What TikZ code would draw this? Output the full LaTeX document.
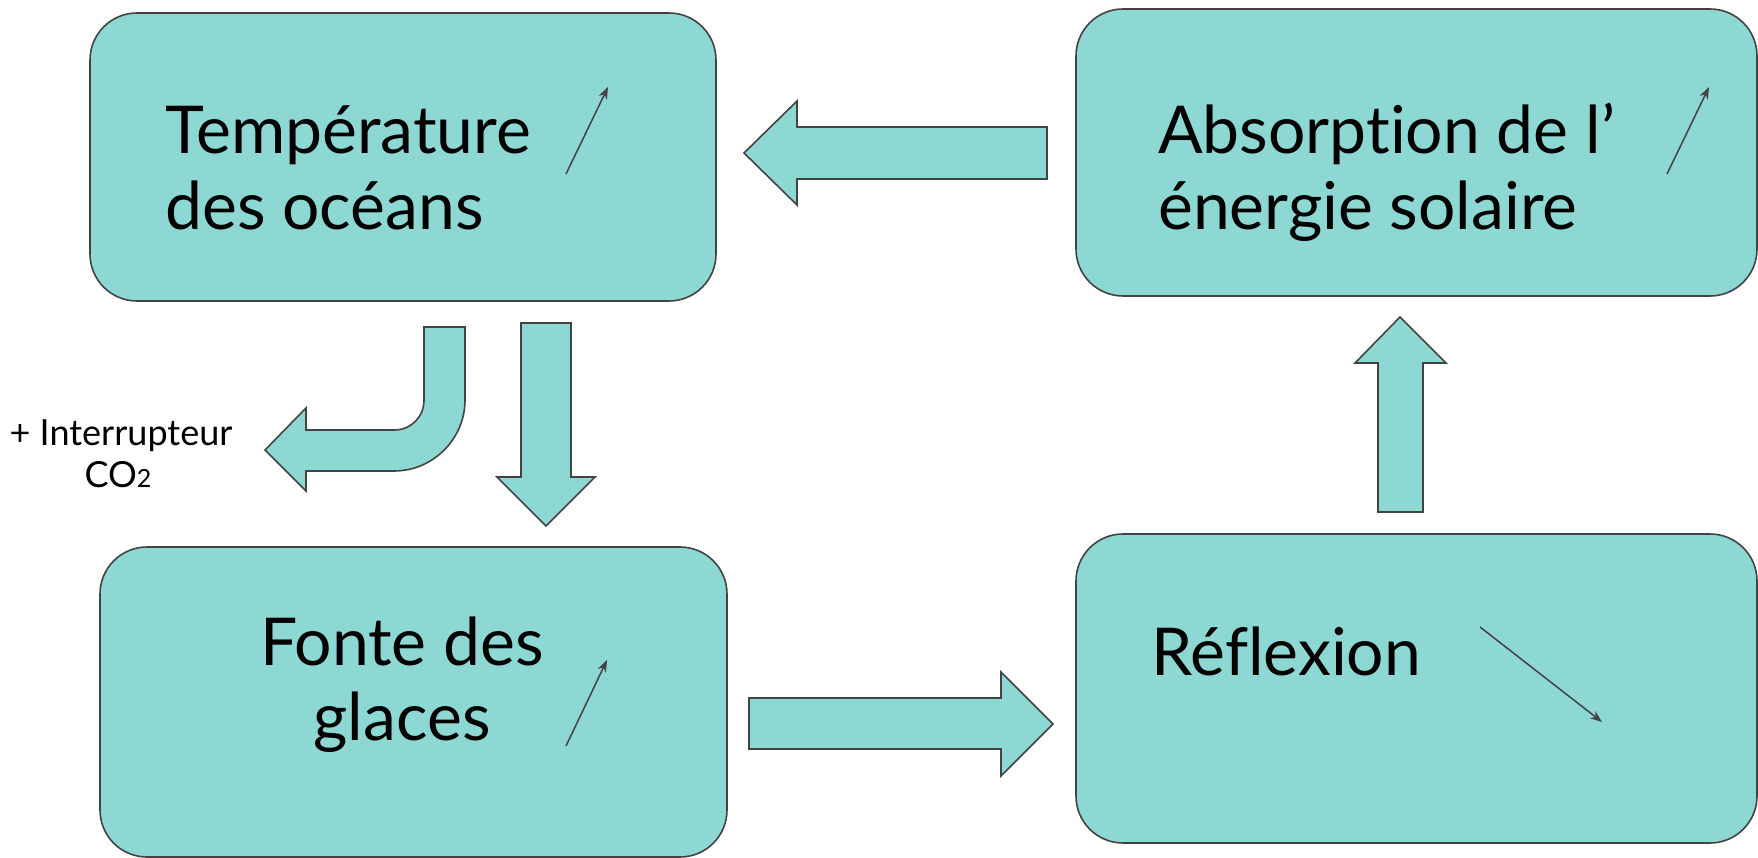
\documentclass[tikz,border=0pt]{standalone}
\usepackage{fontspec}
\setmainfont{Lato}[Ligatures=NoCommon]
\usepackage{tikz}
\usetikzlibrary{arrows.meta}
\definecolor{glace}{HTML}{8ED8D3}
\definecolor{trait}{HTML}{434343}
\newcommand{\bigtext}{\fontsize{66}{76}\selectfont}
\newcommand{\smalltext}{\fontsize{36}{40}\selectfont}

\begin{document}
\begin{tikzpicture}[x=1pt,y=-1pt,
    box/.style={draw=trait, fill=glace, line width=1.6pt, rounded corners=47pt},
    fat/.style={draw=trait, fill=glace, line width=1.6pt, line join=miter},
    trend/.style={draw=trait, line width=1.5pt, -{Stealth[length=12pt,width=9pt]}},
    lbl/.style={anchor=base west, inner sep=0pt, font=\bigtext}]
\useasboundingbox (0,0) rectangle (1758,858);

    % the four boxes
\draw[box] (90,13) rectangle (716,301);
\draw[box] (1076,9) rectangle (1757,296);
\draw[box] (100,547) rectangle (727,857);
\draw[box] (1076,534) rectangle (1757,843);

\node (temp1) at (165,154) [lbl] {Température};
\node (temp2) at (165,230) [lbl] {des océans};
\node (abs1) at (1158,154) [lbl] {Absorption de l’};
\node (abs2) at (1158,230) [lbl] {énergie solaire};
\node (fonte1) at (402,665) [lbl, anchor=base] {Fonte des};
\node (fonte2) at (402,740) [lbl, anchor=base] {glaces};
\node (refl) at (1151,675) [lbl] {Réflexion};

    % up / down marks
\draw[trend] (566,174) to (608,87);
\draw[trend] (1667,174) to (1709,87);
\draw[trend] (566,746) to (607,660);
\draw[trend] (1480,627) to (1602,722);

    % block arrows
\draw[fat] (1047,127) -- (797,127) -- (797,101) -- (744,153)
  -- (797,205) -- (797,179) -- (1047,179) -- cycle;
\draw[fat] (521,323) -- (571,323) -- (571,477) -- (595,477)
  -- (546,526) -- (497,477) -- (521,477) -- cycle;
\draw[fat] (749,698) -- (1001,698) -- (1001,672) -- (1053,724)
  -- (1001,776) -- (1001,749) -- (749,749) -- cycle;
\draw[fat] (1378,512) -- (1378,363) -- (1355,363) -- (1400,317)
  -- (1446,363) -- (1423,363) -- (1423,512) -- cycle;
\draw[fat] (424,327) -- (465,327) -- (465,400)
  .. controls (465,439) and (433,471) .. (394,471)
  -- (306,471) -- (306,491) -- (265,450) -- (306,408) -- (306,430) -- (394,430)
  .. controls (411,430) and (424,417) .. (424,400) -- cycle;

\node (inter) at (121,445) [anchor=base, inner sep=0pt, font=\smalltext] {+ Interrupteur};
\node (co) at (118,487) [anchor=base, inner sep=0pt, font=\smalltext] {CO{\fontsize{25}{25}\selectfont 2}};

  \end{tikzpicture}
\end{document}
